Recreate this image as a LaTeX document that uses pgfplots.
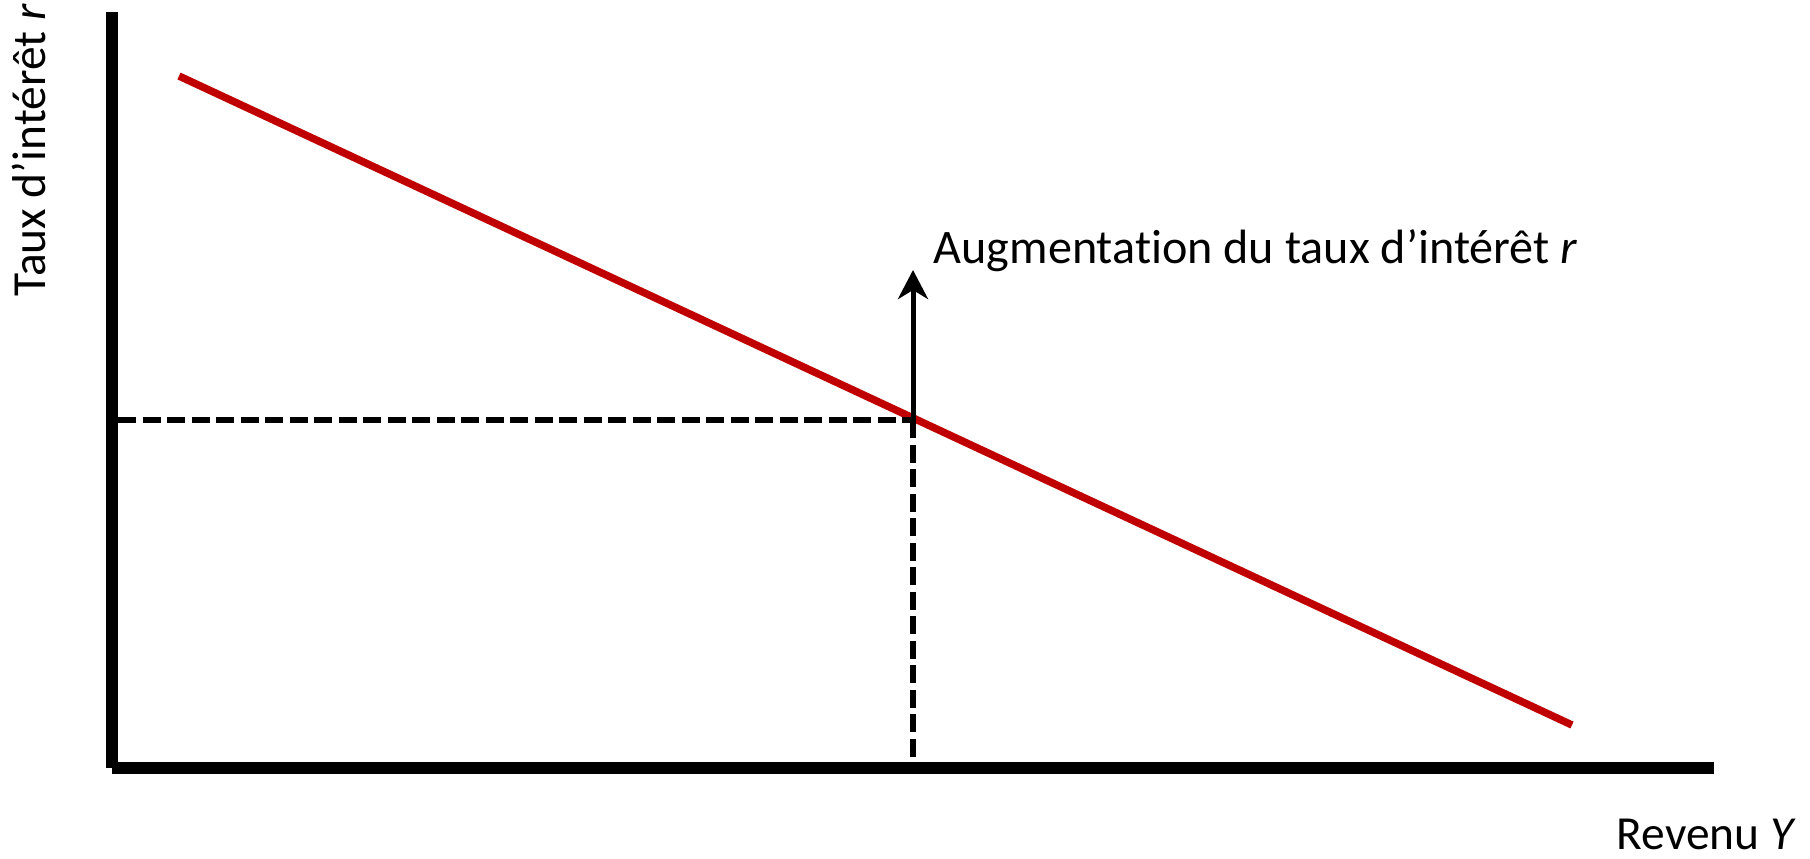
\documentclass[border=0pt]{standalone}
\usepackage{fontspec}
\setmainfont{Carlito}[Ligatures={NoCommon}]
\usepackage{pgfplots}
\pgfplotsset{compat=1.18}
\usetikzlibrary{arrows.meta}
\definecolor{curvered}{RGB}{192,0,0}
\begin{document}
\begin{tikzpicture}
\begin{axis}[
  scale only axis,
  width=160.2mm, height=75.6mm,
  xmin=112, xmax=1714, ymin=90, ymax=846,
  axis lines=left,
  axis line style={-, line width=1.2mm, black},
  xtick=\empty, ytick=\empty,
  clip=false,
]
% IS curve
\addplot[curvered, line width=0.75mm] coordinates {(179,782) (1572,133)};
% dashed guides
\addplot[black, line width=0.6mm, dash pattern=on 1.8mm off 0.65mm] coordinates {(118,438) (913,438)};
\addplot[black, line width=0.6mm, dash pattern=on 1.8mm off 0.65mm] coordinates {(913,438) (913,92)};
% arrow
\addplot[black, line width=0.5mm, -{Stealth[length=2.9mm,width=3mm,inset=0.9mm]}] coordinates {(913,438) (913,588)};
% labels
\node[anchor=base west, inner sep=0pt, font=\fontsize{13.7pt}{16pt}\selectfont] at (axis cs:933,595) {Augmentation du taux d’intérêt \textit{r}};
\node[anchor=base west, inner sep=0pt, font=\fontsize{13.5pt}{16pt}\selectfont] at (axis cs:1616,9) {Revenu \textit{Y}};
\node[anchor=base west, inner sep=0pt, rotate=90, font=\fontsize{13.5pt}{16pt}\selectfont] at (axis cs:45,561) {Taux d’intérêt \textit{r}};
\coordinate (BL) at (axis cs:0,0);
\coordinate (TR) at (axis cs:1810,858);
\end{axis}
\pgfresetboundingbox
\path[use as bounding box] (BL) rectangle (TR);
\end{tikzpicture}
\end{document}
